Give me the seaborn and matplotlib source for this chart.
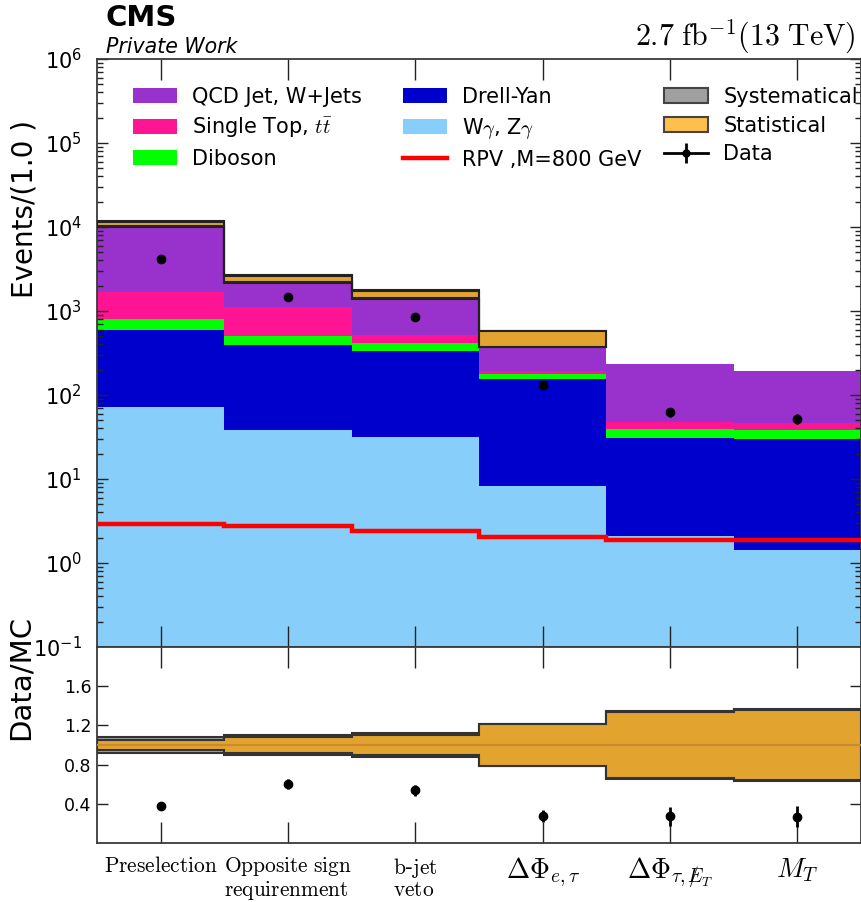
import numpy as np
import pandas as pd
import matplotlib
matplotlib.use("Agg")
import matplotlib.pyplot as plt
from matplotlib.lines import Line2D
from matplotlib.patches import Patch
import seaborn as sns

plt.rcParams["mathtext.fontset"] = "cm"
plt.rcParams["font.family"] = ["DejaVu Sans"]

# ---- selection steps (x categories) ----
tick_labels = [
    r"$\mathrm{Preselection}$",
    r"$\mathrm{Opposite\ sign}$" "\n" r"$\mathrm{requirenment}$",
    r"$\mathrm{b}$-$\mathrm{jet}$" "\n" r"$\mathrm{veto}$",
    r"$\Delta\Phi_{e,\tau}$",
    r"$\Delta\Phi_{\tau,/\!\!\!\!E_T}$",
    r"$M_T$",
]

# ---- expected events per background process ----
qcd_wjets = [9325, 1323, 1076, 280, 184, 147]
single_top_tt = [880, 603, 94, 17, 9.1, 8.0]
diboson = [203, 110, 83, 23, 8.0, 7.8]
drell_yan = [522, 356, 306, 147, 28.9, 28.8]
w_z_gamma = [71.5, 38.3, 31.4, 8.3, 2.1, 1.43]

# ---- signal, data and uncertainties ----
rpv_m800 = [2.91, 2.76, 2.43, 2.06, 1.89, 1.90]
data_obs = [4180, 1455, 855, 131, 63, 52]
stat_rel = [0.055, 0.08, 0.10, 0.21, 0.34, 0.36]
syst_rel = [0.058, 0.068, 0.066, 0.06, 0.06, 0.06]

process_names = ["QCD Jet, W+Jets", r"Single Top, $t\bar{t}$", "Diboson",
                 "Drell-Yan", r"W$\gamma$, Z$\gamma$"]
process_colors = ["#9932CC", "#FF1493", "#00FF00", "#0000CD", "#87CEFA"]
process_values = [qcd_wjets, single_top_tt, diboson, drell_yan, w_z_gamma]

n_bins = len(tick_labels)
centers = np.arange(n_bins)
edges = np.arange(n_bins + 1) - 0.5

df = pd.DataFrame({
    "cut": np.tile(centers, len(process_names)),
    "process": np.repeat(process_names, n_bins),
    "events": np.concatenate(process_values).astype(float),
})

total = np.sum(np.array(process_values, dtype=float), axis=0)
data = np.array(data_obs, dtype=float)
stat = np.array(stat_rel)
syst = np.array(syst_rel)
comb = np.sqrt(stat ** 2 + syst ** 2)
ratio = data / total
ratio_err = ratio * np.sqrt(1.0 / data + stat ** 2)

orange = (1.0, 0.647, 0.0, 0.7)
grey = "#A0A0A0"
edge_dark = "#222222"

fig = plt.figure(figsize=(8.62, 9.02), dpi=100)
ax = fig.add_axes([97 / 862, 255 / 902, 764 / 862, 588 / 902])
rax = fig.add_axes([97 / 862, 59 / 902, 764 / 862, 196 / 902], sharex=ax)

ax.set_yscale("log")
sns.histplot(data=df, x="cut", weights="events", hue="process",
             hue_order=process_names,
             palette=dict(zip(process_names, process_colors)),
             multiple="stack", binwidth=1, binrange=(edges[0], edges[-1]),
             element="step", fill=True, alpha=1, linewidth=0,
             legend=False, ax=ax)

# signal line
ax.stairs(rpv_m800, edges, baseline=None, color="red", lw=3.2, zorder=3)

# uncertainty band on the stack (first four selections)
nb = 4
ax.stairs(total[:nb] * (1 + comb[:nb]), edges[:nb + 1],
          baseline=total[:nb] * (1 - comb[:nb]), fill=True,
          facecolor=grey, edgecolor=edge_dark, lw=1.5, zorder=4)
ax.stairs(total[:nb] * (1 + stat[:nb]), edges[:nb + 1],
          baseline=total[:nb] * (1 - stat[:nb]), fill=True,
          facecolor=orange, edgecolor=edge_dark, lw=1.5, zorder=4)

ax.errorbar(centers, data, yerr=np.sqrt(data), fmt="o", color="k", ms=6,
            elinewidth=2, capsize=0, zorder=6)

# ratio panel
rax.stairs(1 + comb, edges, baseline=1 - comb, fill=True, facecolor=grey,
           edgecolor="#333333", lw=1.5, zorder=2)
rax.stairs(1 + stat, edges, baseline=1 - stat, fill=True, facecolor=orange,
           edgecolor="#333333", lw=1.5, zorder=3)
rax.axhline(1.0, color="#CC8A2E", lw=1.5, zorder=4)
rax.errorbar(centers, ratio, yerr=ratio_err, fmt="o", color="k", ms=6,
             elinewidth=2, capsize=0, zorder=6)

ax.set_xlim(-0.5, 5.5)
ax.set_ylim(0.1, 1e6)
rax.set_ylim(0, 2.0)
rax.set_yticks([0.4, 0.8, 1.2, 1.6])
rax.set_xticks(centers)
rax.set_xticklabels(tick_labels)
for i, lbl in enumerate(rax.get_xticklabels()):
    lbl.set_fontsize(15.4 if i < 3 else 20)
    lbl.set_linespacing(1.05)
    lbl.set_multialignment("left")

for a in (ax, rax):
    a.tick_params(which="both", direction="in", top=True, right=True,
                  color="#222222")
    a.tick_params(axis="x", which="major", length=15, width=1)
    a.tick_params(axis="y", which="major", length=8, width=1)
    a.tick_params(axis="y", which="minor", length=4, width=1)
    for s in a.spines.values():
        s.set_color("#3a3a3a")
        s.set_linewidth(1.3)
    a.set_xlabel("")
ax.tick_params(axis="x", labelbottom=False)
ax.tick_params(axis="y", labelsize=15, pad=11)
rax.tick_params(axis="y", labelsize=12.5, pad=4)
rax.tick_params(axis="x", pad=9)

ax.set_ylabel("Events/(1.0 )", fontsize=20)
ax.yaxis.label.set_va("center")
ax.yaxis.set_label_coords((25 - 97) / 764, (647 - 208.5) / 588)
rax.set_ylabel("Data/MC", fontsize=21)
rax.yaxis.label.set_va("center")
rax.yaxis.set_label_coords((21 - 97) / 764, (843 - 677.5) / 196)

# header
fig.text(106 / 862, 1 - 26 / 902, "CMS", fontsize=21, fontweight="bold",
         va="baseline", ha="left")
fig.text(106 / 862, 1 - 53 / 902, "Private Work", fontsize=14.8,
         style="italic", va="baseline", ha="left")
fig.text(856 / 862, 1 - 45 / 902, r"$2.7\ \mathrm{fb}^{-1}(13\ \mathrm{TeV})$",
         fontsize=21.5, va="baseline", ha="right")

# legend in three columns
common = dict(loc="upper left", frameon=False, fontsize=15, handlelength=2.1,
              handleheight=0.75, handletextpad=0.75, labelspacing=0.42,
              borderpad=0, borderaxespad=0, bbox_transform=fig.transFigure)
top_y = 1 - 87 / 902
h1 = [Patch(facecolor=c, edgecolor="none") for c in process_colors[:3]]
leg1 = ax.legend(h1, process_names[:3], bbox_to_anchor=(133 / 862, top_y), **common)
ax.add_artist(leg1)
h2 = [Patch(facecolor=process_colors[3], edgecolor="none"),
      Patch(facecolor=process_colors[4], edgecolor="none"),
      Line2D([], [], color="red", lw=3.2)]
leg2 = ax.legend(h2, process_names[3:] + ["RPV ,M=800 GeV"],
                 bbox_to_anchor=(403 / 862, top_y), **common)
ax.add_artist(leg2)
data_handle = (Line2D([], [], color="k", lw=2),
               Line2D([], [], color="k", marker="|", ms=15, mew=2, ls="none"),
               Line2D([], [], color="k", marker="o", ms=5, ls="none"))
h3 = [Patch(facecolor=grey, edgecolor="#444444", lw=1.5),
      Patch(facecolor=orange, edgecolor="#444444", lw=1.5),
      data_handle]
ax.legend(h3, ["Systematical", "Statistical", "Data"],
          bbox_to_anchor=(664 / 862, top_y), **common)

fig.savefig("out.png", dpi=100)
